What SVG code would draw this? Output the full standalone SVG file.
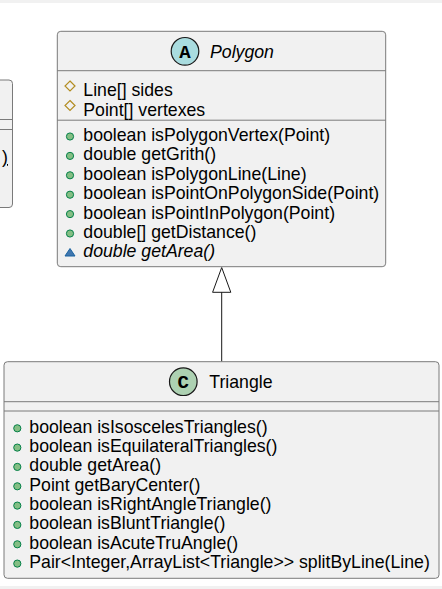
<svg xmlns="http://www.w3.org/2000/svg" width="442" height="589" viewBox="0 0 442 589">
<style>
.box{fill:#F1F1F1;stroke:#7a7a7a;stroke-width:1}
.sep{stroke:#7a7a7a;stroke-width:1}
.t{font-family:"Liberation Sans",Arial,sans-serif;font-size:17.7px;fill:#000}
.it{font-style:italic}
.dot{fill:#84BE84;stroke:#038048;stroke-width:1}
.dia{fill:none;stroke:#B38D22;stroke-width:1.2}
.tri{fill:#4177AF;stroke:#1963A0;stroke-width:1}
.sp{font-family:"Liberation Mono","DejaVu Sans Mono",monospace;font-size:19px;font-weight:bold;fill:#000}
</style>
<rect x="0" y="0" width="442" height="589" fill="#FFFFFF"/>
<rect x="0" y="0" width="442" height="3" fill="#F1F1F1"/>
<rect x="0" y="586" width="442" height="3" fill="#F1F1F1"/>

<g id="partial">
<rect class="box" x="-10" y="80" width="22.5" height="127.5" rx="3.5"/>
<line class="sep" x1="-10" y1="119.5" x2="12.5" y2="119.5"/>
<line class="sep" x1="-10" y1="129.5" x2="12.5" y2="129.5"/>
<text class="t" x="8" y="163" text-anchor="end" text-decoration="underline">)</text>
</g>

<g id="connectors">
<line x1="221.7" y1="292" x2="221.7" y2="361.7" stroke="#181818" stroke-width="1"/>
<polygon points="221.7,267.5 212.6,292.3 230.8,292.3" fill="#FFFFFF" stroke="#181818" stroke-width="1"/>
</g>

<g id="Polygon">
<rect class="box" x="57.3" y="31.3" width="328.4" height="235.4" rx="3.5"/>
<line class="sep" x1="57.3" y1="70.7" x2="385.7" y2="70.7"/>
<line class="sep" x1="57.3" y1="120.2" x2="385.7" y2="120.2"/>
<circle cx="185" cy="51.3" r="13.8" fill="#A9DCDF" stroke="#181818" stroke-width="1.2"/>
<text class="sp" x="185" y="58" text-anchor="middle">A</text>
<text class="t it" x="210" y="57.5">Polygon</text>
<polygon class="dia" points="70,81 75,86 70,91 65,86"/>
<text class="t" x="83.3" y="96">Line[] sides</text>
<polygon class="dia" points="70,100.5 75,105.5 70,110.5 65,105.5"/>
<text class="t" x="83.3" y="115.5">Point[] vertexes</text>
<circle class="dot" cx="70" cy="136.5" r="3.6"/>
<text class="t" x="83.3" y="141">boolean isPolygonVertex(Point)</text>
<circle class="dot" cx="70" cy="155.9" r="3.6"/>
<text class="t" x="83.3" y="160.4">double getGrith()</text>
<circle class="dot" cx="70" cy="175.3" r="3.6"/>
<text class="t" x="83.3" y="179.8">boolean isPolygonLine(Line)</text>
<circle class="dot" cx="70" cy="194.7" r="3.6"/>
<text class="t" x="83.3" y="199.2">boolean isPointOnPolygonSide(Point)</text>
<circle class="dot" cx="70" cy="214.1" r="3.6"/>
<text class="t" x="83.3" y="218.6">boolean isPointInPolygon(Point)</text>
<circle class="dot" cx="70" cy="233.5" r="3.6"/>
<text class="t" x="83.3" y="238">double[] getDistance()</text>
<polygon class="tri" points="70,248.5 75,256 65,256"/>
<text class="t it" x="83.3" y="257.4">double getArea()</text>
</g>

<g id="Triangle">
<rect class="box" x="4" y="361.7" width="435" height="216.6" rx="3.5"/>
<line class="sep" x1="4" y1="401.7" x2="439" y2="401.7"/>
<line class="sep" x1="4" y1="411" x2="439" y2="411"/>
<circle cx="183.3" cy="381.7" r="13.8" fill="#ADD1B2" stroke="#181818" stroke-width="1.2"/>
<text class="sp" x="183.3" y="388.4" text-anchor="middle">C</text>
<text class="t" x="209.3" y="387.5">Triangle</text>
<circle class="dot" cx="17.3" cy="428.3" r="3.6"/>
<text class="t" x="29.3" y="432.8">boolean isIsoscelesTriangles()</text>
<circle class="dot" cx="17.3" cy="447.6" r="3.6"/>
<text class="t" x="29.3" y="452.1">boolean isEquilateralTriangles()</text>
<circle class="dot" cx="17.3" cy="466.9" r="3.6"/>
<text class="t" x="29.3" y="471.4">double getArea()</text>
<circle class="dot" cx="17.3" cy="486.3" r="3.6"/>
<text class="t" x="29.3" y="490.8">Point getBaryCenter()</text>
<circle class="dot" cx="17.3" cy="505.6" r="3.6"/>
<text class="t" x="29.3" y="510.1">boolean isRightAngleTriangle()</text>
<circle class="dot" cx="17.3" cy="524.9" r="3.6"/>
<text class="t" x="29.3" y="529.4">boolean isBluntTriangle()</text>
<circle class="dot" cx="17.3" cy="544.3" r="3.6"/>
<text class="t" x="29.3" y="548.8">boolean isAcuteTruAngle()</text>
<circle class="dot" cx="17.3" cy="563.6" r="3.6"/>
<text class="t" x="29.3" y="568.1">Pair&lt;Integer,ArrayList&lt;Triangle&gt;&gt; splitByLine(Line)</text>
</g>
</svg>
